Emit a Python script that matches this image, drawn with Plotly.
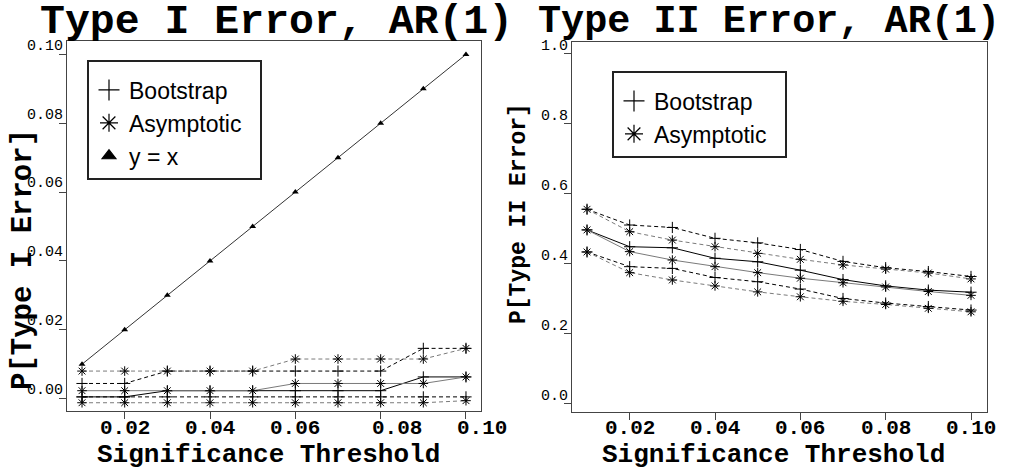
import plotly.graph_objects as go

# ---------------- data ----------------
thresholds = [0.01, 0.02, 0.03, 0.04, 0.05, 0.06, 0.07, 0.08, 0.09, 0.10]
x_tick_vals = [0.02, 0.04, 0.06, 0.08, 0.10]
x_tick_text = ["0.02", "0.04", "0.06", "0.08", "0.10"]

# Type I error (left panel)
boot1_upper = [0.0044, 0.0044, 0.0080, 0.0080, 0.0080, 0.0080, 0.0080, 0.0080, 0.0146, 0.0146]
boot1_est   = [0.0005, 0.0005, 0.0023, 0.0023, 0.0023, 0.0023, 0.0023, 0.0023, 0.0063, 0.0063]
boot1_lower = [0.0005, 0.0005, 0.0005, 0.0005, 0.0005, 0.0005, 0.0005, 0.0005, 0.0005, 0.0005]
asym1_upper = [0.0080, 0.0080, 0.0080, 0.0080, 0.0080, 0.0115, 0.0115, 0.0115, 0.0115, 0.0146]
asym1_est   = [0.0023, 0.0023, 0.0023, 0.0023, 0.0023, 0.0044, 0.0044, 0.0044, 0.0044, 0.0063]
asym1_lower = [-0.0012, -0.0012, -0.0012, -0.0012, -0.0012, -0.0012, -0.0012, -0.0012, -0.0012, -0.0006]
y_equals_x  = [0.01, 0.02, 0.03, 0.04, 0.05, 0.06, 0.07, 0.08, 0.09, 0.10]

# Type II error (right panel)
boot2_upper = [0.555, 0.510, 0.503, 0.472, 0.459, 0.440, 0.406, 0.388, 0.377, 0.363]
asym2_upper = [0.555, 0.491, 0.467, 0.448, 0.429, 0.412, 0.396, 0.384, 0.373, 0.356]
boot2_est   = [0.496, 0.448, 0.445, 0.415, 0.405, 0.381, 0.354, 0.336, 0.324, 0.318]
asym2_est   = [0.496, 0.434, 0.410, 0.391, 0.374, 0.358, 0.345, 0.333, 0.320, 0.309]
boot2_lower = [0.433, 0.391, 0.386, 0.360, 0.348, 0.327, 0.300, 0.287, 0.277, 0.267]
asym2_lower = [0.433, 0.374, 0.353, 0.336, 0.319, 0.305, 0.292, 0.283, 0.272, 0.262]

# ---------------- styling ----------------
MONO = "Liberation Mono"
SANS = "Liberation Sans"
BOOT_COLOR = "#000000"
ASYM_COLOR = "#7a7a7a"
DASH = "4px,3px"
PAD = "\u00a0\u00a0"

fig = go.Figure()


def add_series(y, xa, ya, symbol, lcolor, dash, mcolor="#000000"):
    fig.add_trace(go.Scatter(
        x=thresholds, y=y, xaxis=xa, yaxis=ya, mode="lines+markers",
        line=dict(color=lcolor, width=1, dash=dash),
        marker=dict(symbol=symbol, size=8, color=mcolor,
                    line=dict(color=mcolor, width=1)),
        showlegend=False, hoverinfo="skip"))


# left panel
add_series(boot1_lower, "x", "y", "cross-thin-open", BOOT_COLOR, DASH)
add_series(asym1_lower, "x", "y", "asterisk-open", ASYM_COLOR, DASH)
add_series(boot1_est, "x", "y", "cross-thin-open", BOOT_COLOR, "solid")
add_series(asym1_est, "x", "y", "asterisk-open", ASYM_COLOR, "solid")
add_series(boot1_upper, "x", "y", "cross-thin-open", BOOT_COLOR, DASH)
add_series(asym1_upper, "x", "y", "asterisk-open", ASYM_COLOR, DASH)
fig.add_trace(go.Scatter(
    x=thresholds, y=y_equals_x, xaxis="x", yaxis="y", mode="lines+markers",
    line=dict(color="#333333", width=1),
    marker=dict(symbol="triangle-up", size=6, color="#000000"),
    showlegend=False, hoverinfo="skip"))

# right panel
for y, sym, col, dsh in [
    (boot2_upper, "cross-thin-open", BOOT_COLOR, DASH),
    (asym2_upper, "asterisk-open", ASYM_COLOR, DASH),
    (boot2_est, "cross-thin-open", BOOT_COLOR, "solid"),
    (asym2_est, "asterisk-open", ASYM_COLOR, "solid"),
    (boot2_lower, "cross-thin-open", BOOT_COLOR, DASH),
    (asym2_lower, "asterisk-open", ASYM_COLOR, DASH),
]:
    add_series(y, "x2", "y2", sym, col, dsh)

# legend-only traces
def legend_entry(name, symbol, legend, size=15):
    fig.add_trace(go.Scatter(
        x=[None], y=[None], mode="markers", name=name, legend=legend,
        marker=dict(symbol=symbol, size=size, color="#000000",
                    line=dict(color="#000000", width=1.2)),
        xaxis="x", yaxis="y"))

legend_entry("Bootstrap", "cross-thin-open", "legend")
legend_entry("Asymptotic" + PAD, "asterisk-open", "legend")
legend_entry("y = x", "triangle-up", "legend", size=12)
legend_entry("Bootstrap", "cross-thin-open", "legend2")
legend_entry("Asymptotic" + PAD, "asterisk-open", "legend2")

W, H = 1021, 472

def px_x(p):
    return p / W

def px_y(p):
    return 1 - p / H

axis_common = dict(
    showline=True, mirror=True, linecolor="#444444", linewidth=1,
    showgrid=False, zeroline=False, ticks="outside", ticklen=7,
    tickcolor="#444444", tickwidth=1, automargin=False,
)

legend_common = dict(
    bgcolor="rgba(255,255,255,1)", bordercolor="#222222", borderwidth=2,
    font=dict(family=SANS, size=23, color="#000000"),
    xanchor="left", yanchor="top", tracegroupgap=0,
    title=dict(text=" ", font=dict(size=5, family=SANS)),
)

fig.update_layout(
    width=W, height=H, margin=dict(l=0, r=0, t=0, b=0, autoexpand=False),
    paper_bgcolor="white", plot_bgcolor="white",
    xaxis=dict(domain=[px_x(67), px_x(481)], range=[0.00648, 0.10352],
               tickvals=x_tick_vals, showticklabels=False, anchor="y",
               **axis_common),
    yaxis=dict(domain=[px_y(411), px_y(41)], range=[-0.0036, 0.1039],
               tickvals=[0.00, 0.02, 0.04, 0.06, 0.08, 0.10], tickformat=".2f",
               tickfont=dict(family=MONO, size=15, color="#000000"),
               ticklabelshift=-10, ticklabelstandoff=-7, anchor="x",
               **axis_common),
    xaxis2=dict(domain=[px_x(572), px_x(987)], range=[0.00648, 0.10375],
                tickvals=x_tick_vals, showticklabels=False,
                anchor="y2", **axis_common),
    yaxis2=dict(domain=[px_y(412), px_y(42)], range=[-0.0243, 1.033],
                tickvals=[0.0, 0.2, 0.4, 0.6, 0.8, 1.0], tickformat=".1f",
                tickfont=dict(family=MONO, size=15, color="#000000"),
                ticklabelshift=-9, ticklabelstandoff=-7, anchor="x2",
                **axis_common),
    legend=dict(x=px_x(87), y=px_y(60), **legend_common),
    legend2=dict(x=px_x(612), y=px_y(71), **legend_common),
)

tick_font = dict(family=MONO, size=21, color="#000000", weight="bold")
annotations = []
for v, t in zip(x_tick_vals, x_tick_text):
    shift = 16 if v >= 0.08 else 0
    annotations.append(dict(
        x=v, y=px_y(428), xref="x", yref="paper", text=t, showarrow=False,
        xshift=shift, xanchor="center", yanchor="middle", font=tick_font))
    annotations.append(dict(
        x=v, y=px_y(428), xref="x2", yref="paper", text=t, showarrow=False,
        xanchor="center", yanchor="middle", font=tick_font))

annotations += [
    dict(x=px_x(276), y=px_y(22), xref="paper", yref="paper",
         text="Type I Error, AR(1)", showarrow=False,
         font=dict(family=MONO, size=41.5, color="#000000", weight="bold"),
         xanchor="center", yanchor="middle"),
    dict(x=px_x(769), y=px_y(22), xref="paper", yref="paper",
         text="Type II Error, AR(1)", showarrow=False,
         font=dict(family=MONO, size=38.5, color="#000000", weight="bold"),
         xanchor="center", yanchor="middle"),
    dict(x=px_x(268), y=px_y(455), xref="paper", yref="paper",
         text="Significance Threshold", showarrow=False,
         font=dict(family=MONO, size=26, color="#000000", weight="bold"),
         xanchor="center", yanchor="middle"),
    dict(x=px_x(773), y=px_y(455), xref="paper", yref="paper",
         text="Significance Threshold", showarrow=False,
         font=dict(family=MONO, size=26, color="#000000", weight="bold"),
         xanchor="center", yanchor="middle"),
    dict(x=px_x(23), y=px_y(260), xref="paper", yref="paper",
         text="P[Type I Error]", showarrow=False, textangle=-90,
         font=dict(family=MONO, size=29, color="#000000", weight="bold"),
         xanchor="center", yanchor="middle"),
    dict(x=px_x(519), y=px_y(214), xref="paper", yref="paper",
         text="P[Type II Error]", showarrow=False, textangle=-90,
         font=dict(family=MONO, size=23, color="#000000", weight="bold"),
         xanchor="center", yanchor="middle"),
]
fig.update_layout(annotations=annotations)

fig.write_html("out.html")
